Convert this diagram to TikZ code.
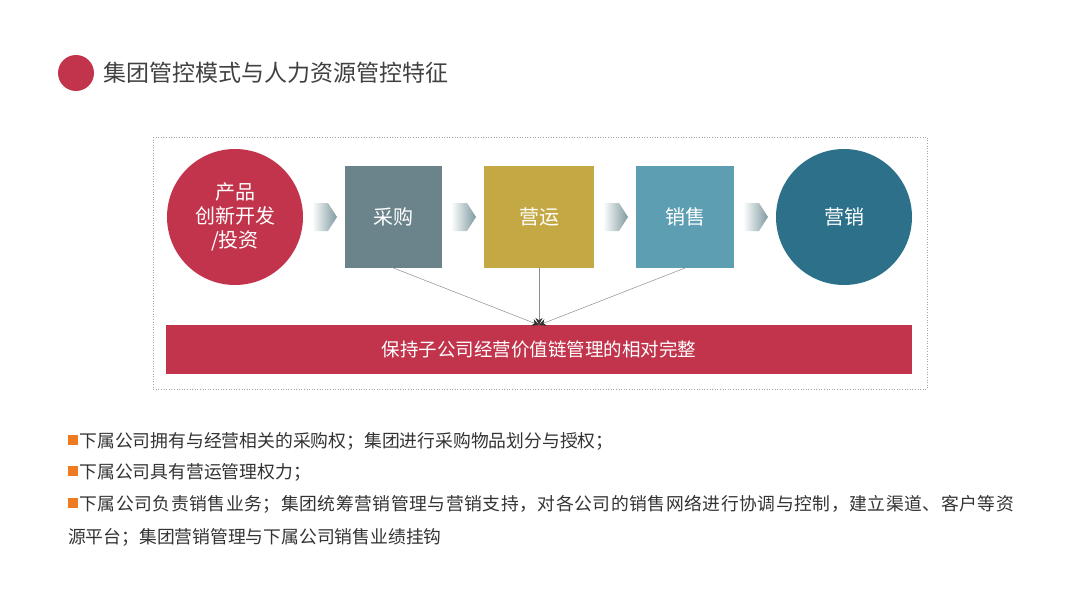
\documentclass[tikz,border=0pt]{standalone}
\usepackage{fontspec}
\setmainfont{Noto Sans CJK SC}
\usepackage{xcolor}
\usetikzlibrary{arrows.meta,positioning,calc}
\definecolor{vcRed}{HTML}{C1344B}
\definecolor{vcSlate}{HTML}{6B848B}
\definecolor{vcMustard}{HTML}{C3A843}
\definecolor{vcTeal}{HTML}{5E9EB2}
\definecolor{vcDeep}{HTML}{2C7189}
\definecolor{vcChev}{HTML}{7E9A9F}
\definecolor{vcOrange}{HTML}{EE7A22}
\definecolor{vcText}{HTML}{333333}
\newcommand\bulsq{{\color{vcOrange}\raisebox{2pt}{\rule{10pt}{10pt}}}\hspace{1.5pt}}

\begin{document}
\begin{tikzpicture}[
    x=1pt, y=-1pt,
    node distance=42pt,
    every node/.style={outer sep=0pt},
    stagecirc/.style={circle, fill=#1, minimum size=136pt, inner sep=0pt, align=center, text=white, font=\fontsize{20}{24}\selectfont},
    stagebox/.style={fill=#1, minimum height=102pt, inner sep=0pt, align=center, text=white, font=\fontsize{20}{24}\selectfont},
    link/.style={-{Stealth[length=7pt,width=7pt,color=black!80]}, draw=black!45, line width=0.5pt},
    note/.style={anchor=base west, inner sep=0pt, text=vcText, font=\fontsize{17.8}{22}\selectfont}
]
\useasboundingbox (0,0) rectangle (1080,608);
% title
\node[circle, fill=vcRed, minimum size=36pt, inner sep=0pt] (dot) at (76,73) {};
\node[right=9pt of dot, inner sep=0pt, text=black!75, font=\fontsize{23}{26}\selectfont] (title) {集团管控模式与人力资源管控特征};
% frame
\draw[black!35, dotted, line width=0.6pt] (153,137) rectangle (927,389);
% value chain
\node[stagecirc=vcRed] (develop) at (235,217) {产品\\创新开发\\/投资};
\node[stagebox=vcSlate, minimum width=97pt, right=of develop] (purchase) {采购};
\node[stagebox=vcMustard, minimum width=110pt, right=of purchase] (operate) {营运};
\node[stagebox=vcTeal, minimum width=98pt, right=of operate] (sales) {销售};
\node[stagecirc=vcDeep, right=of sales] (market) {营销};
\foreach \a/\b in {develop/purchase, purchase/operate, operate/sales, sales/market}
    \shade[left color=white, right color=vcChev] ($(\a.east)!0.5!(\b.west)$) ++(-12,-14) -- ++(16,0) -- ++(9,14) -- ++(-9,14) -- ++(-16,0) -- cycle;
\node[fill=vcRed, minimum width=746pt, minimum height=49pt, inner sep=0pt, text=white, font=\fontsize{18.5}{22}\selectfont, below=57pt of operate] (core) {保持子公司经营价值链管理的相对完整};
\foreach \s in {purchase, operate, sales}
    \draw[link] (\s.south) -- (core.north);
% notes
\node[note] (note1) at (68,447) {\bulsq 下属公司拥有与经营相关的采购权；集团进行采购物品划分与授权；};
\node[note] (note2) at (68,478) {\bulsq 下属公司具有营运管理权力；};
\node[note] (note3) at (68,510) {\bulsq {\addfontfeatures{LetterSpace=3}下属公司负责销售业务；集团统筹营销管理与营销支持，对各公司的销售网络进行协调与控制，建立渠道、客户等资}};
\node[note] (note4) at (68,543) {源平台；集团营销管理与下属公司销售业绩挂钩};
\end{tikzpicture}
\end{document}
